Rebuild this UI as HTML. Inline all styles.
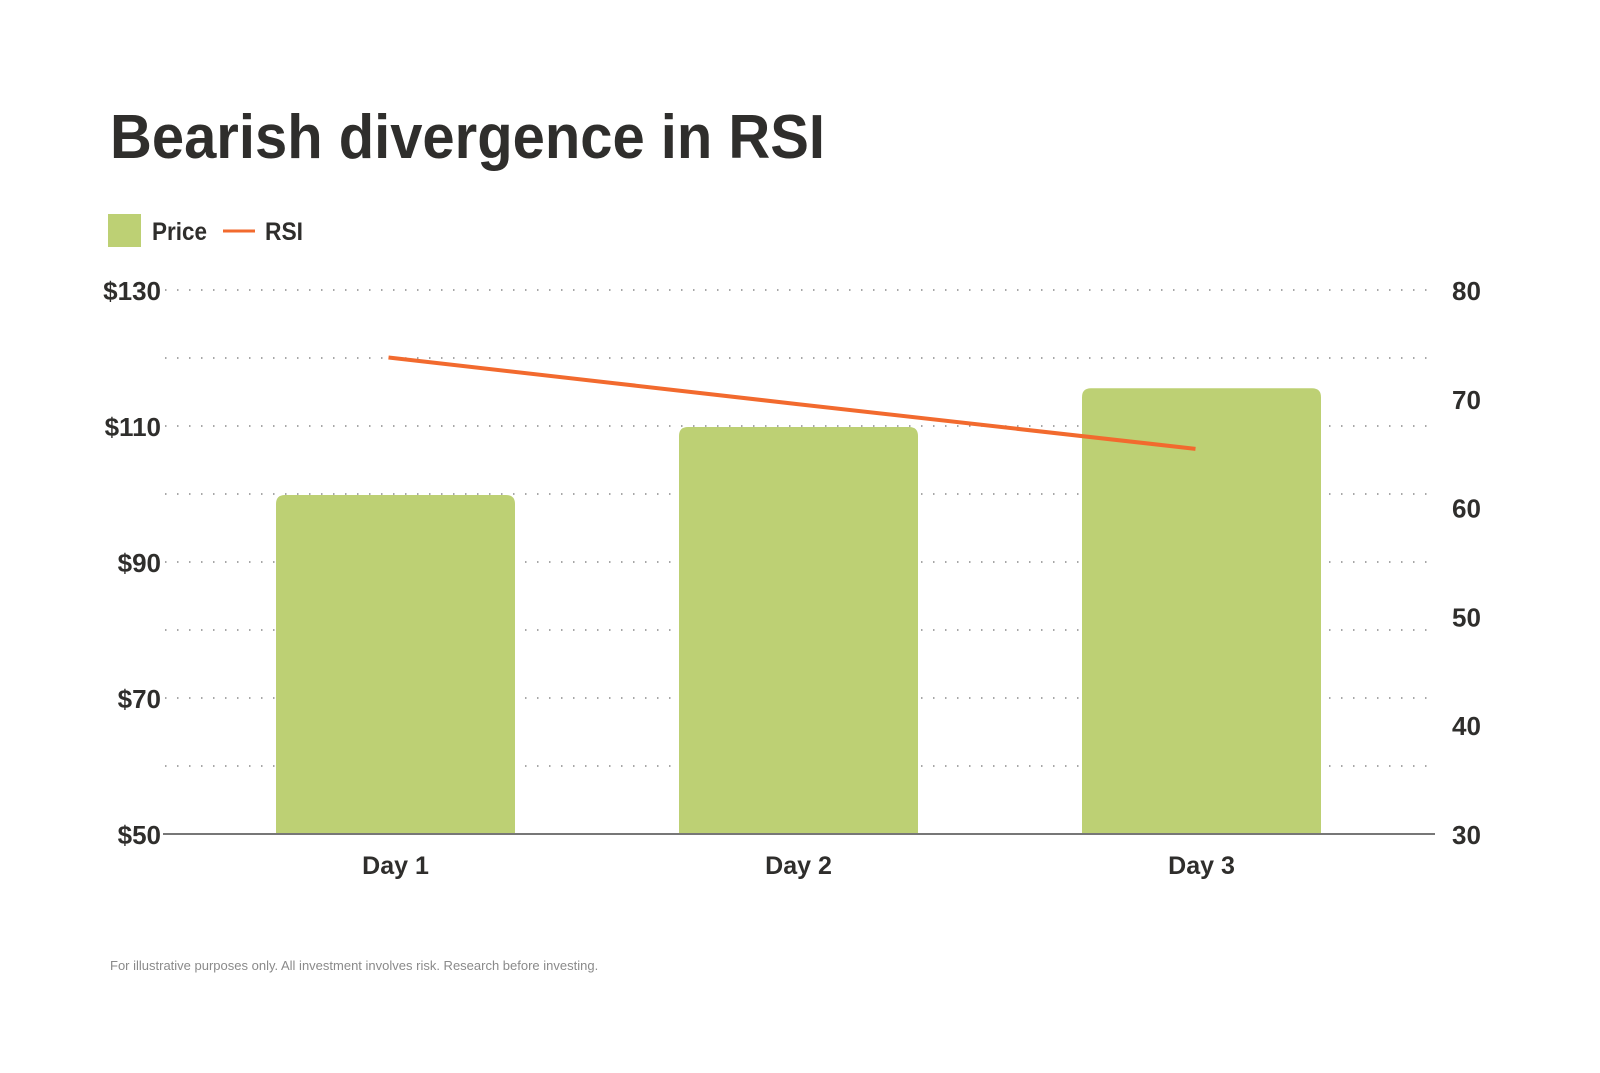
<!DOCTYPE html>
<html><head><meta charset="utf-8"><style>
html,body{margin:0;padding:0;background:#fff;}
svg{display:block;font-family:"Liberation Sans",sans-serif;}
</style></head><body>
<svg id="chart" width="1600" height="1073" viewBox="0 0 1600 1073">
<text x="110" y="158" font-size="62" font-weight="bold" fill="#2f2e2c" textLength="715" lengthAdjust="spacingAndGlyphs">Bearish divergence in RSI</text>
<g>
<rect x="108" y="214" width="33" height="33" fill="#bdd074"/>
<text x="152" y="240" font-size="25" font-weight="bold" fill="#2f2e2c" textLength="55" lengthAdjust="spacingAndGlyphs">Price</text>
<line x1="223" y1="231" x2="255" y2="231" stroke="#f26a2e" stroke-width="3"/>
<text x="265" y="240" font-size="25" font-weight="bold" fill="#2f2e2c" textLength="38" lengthAdjust="spacingAndGlyphs">RSI</text>
</g>
<g id="grid"></g><g id="bars"></g><g id="axes"></g><g id="line"></g>
<text x="110" y="970" font-size="13" fill="#8a8a8a">For illustrative purposes only. All investment involves risk. Research before investing.</text>
</svg>
<script>
const categories = ["Day 1", "Day 2", "Day 3"];
const priceValues = [100, 110, 115.7];
const rsiValues = [73.8, 69.5, 65.4];
const priceTicks = [50, 70, 90, 110, 130];
const rsiTicks = [30, 40, 50, 60, 70, 80];
const priceTickLabels = ["$50", "$70", "$90", "$110", "$130"];

const NS = "http://www.w3.org/2000/svg";
const yP = v => 834 - (v - 50) * 6.8;
const yR = v => 834 - (v - 30) * 10.88;
const xC = i => 395.5 + i * 403;
function mk(tag, attrs, parent) {
  const el = document.createElementNS(NS, tag);
  for (const k in attrs) el.setAttribute(k, attrs[k]);
  document.getElementById(parent).appendChild(el);
  return el;
}
for (let v = 60; v <= 130; v += 10) {
  const g = mk("line", {x1: 165, x2: 1435, y1: yP(v), y2: yP(v), stroke: "#8a8a8a", "stroke-width": 1.5, "stroke-dasharray": "1.5 10.5"}, "grid");
  
  
}
const bw = 239, r = 9;
priceValues.forEach((v, i) => {
  const x0 = xC(i) - bw / 2, x1 = xC(i) + bw / 2, yt = yP(v) + 1, yb = 834;
  const p = mk("path", {d: `M${x0},${yb} V${yt + r} Q${x0},${yt} ${x0 + r},${yt} H${x1 - r} Q${x1},${yt} ${x1},${yt + r} V${yb} Z`, fill: "#bdd074"}, "bars");
  
  
  const t = mk("text", {x: xC(i), y: 874, "font-size": 25, "font-weight": "bold", fill: "#2f2e2c", "text-anchor": "middle"}, "axes");
  t.textContent = categories[i];
  
  
});
const base = mk("line", {x1: 163, x2: 1435, y1: 834, y2: 834, stroke: "#777", "stroke-width": 2}, "axes");


priceTicks.forEach((v, i) => {
  const t = mk("text", {x: 161, y: yP(v) + 10, "font-size": 26, "font-weight": "bold", fill: "#2f2e2c", "text-anchor": "end"}, "axes");
  t.textContent = priceTickLabels[i];
  
  
});
rsiTicks.forEach(v => {
  const t = mk("text", {x: 1452, y: yR(v) + 10, "font-size": 26, "font-weight": "bold", fill: "#2f2e2c"}, "axes");
  t.textContent = String(v);
  
  
});
const pts = rsiValues.map((v, i) => (xC(i) - (i === 0 ? 7 : i === 2 ? 6 : 0)) + "," + yR(v)).join(" ");
const pl = mk("polyline", {points: pts, fill: "none", stroke: "#f26a2e", "stroke-width": 4}, "line");


</script>
</body></html>
